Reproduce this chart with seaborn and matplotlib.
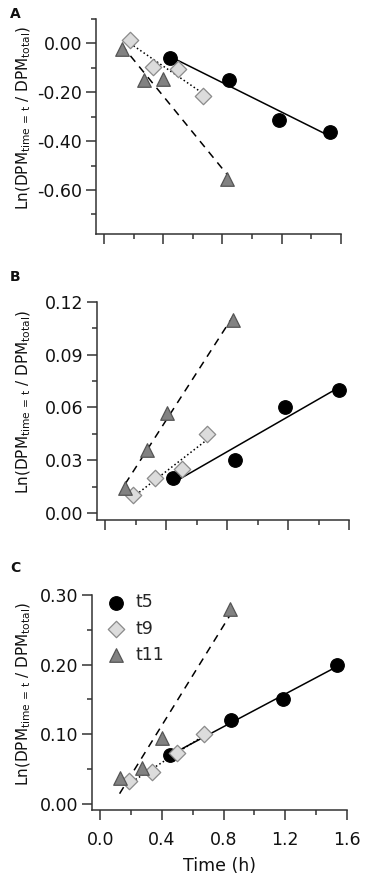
import numpy as np
import pandas as pd
import seaborn as sns
import matplotlib.pyplot as plt
from matplotlib.ticker import MultipleLocator, FormatStrFormatter

# time (h) and Ln(DPM_t / DPM_total)
a_t5_x = [0.447, 0.846, 1.179, 1.526]
a_t5_y = [-0.058, -0.149, -0.312, -0.364]
a_t9_x = [0.177, 0.329, 0.499, 0.669]
a_t9_y = [0.012, -0.096, -0.105, -0.214]
a_t11_x = [0.120, 0.268, 0.397, 0.832]
a_t11_y = [-0.022, -0.150, -0.147, -0.556]

b_t5_x = [0.448, 0.852, 1.183, 1.533]
b_t5_y = [0.020, 0.030, 0.060, 0.070]
b_t9_x = [0.181, 0.328, 0.502, 0.670]
b_t9_y = [0.010, 0.020, 0.025, 0.045]
b_t11_x = [0.131, 0.273, 0.404, 0.836]
b_t11_y = [0.014, 0.036, 0.057, 0.110]

c_t5_x = [0.454, 0.850, 1.185, 1.535]
c_t5_y = [0.070, 0.120, 0.150, 0.200]
c_t9_x = [0.184, 0.335, 0.497, 0.675]
c_t9_y = [0.032, 0.045, 0.073, 0.100]
c_t11_x = [0.125, 0.270, 0.400, 0.839]
c_t11_y = [0.037, 0.052, 0.095, 0.280]

series_names = ['t5', 't9', 't11']
panel_letters = ['A', 'B', 'C']

styles = {
    't5': dict(marker='o', face='black', edge='black', ls='-', size=95),
    't9': dict(marker='D', face='#dcdcdc', edge='#8a8a8a', ls=':', size=70),
    't11': dict(marker='^', face='#828282', edge='#555555', ls=(0, (5, 4)), size=95),
}


def make_frame(xs, ys):
    rows = []
    for name, x, y in zip(series_names, xs, ys):
        rows.append(pd.DataFrame({'Time': x, 'Ln': y, 'Series': name}))
    return pd.concat(rows, ignore_index=True)


panels = [
    make_frame([a_t5_x, a_t9_x, a_t11_x], [a_t5_y, a_t9_y, a_t11_y]),
    make_frame([b_t5_x, b_t9_x, b_t11_x], [b_t5_y, b_t9_y, b_t11_y]),
    make_frame([c_t5_x, c_t9_x, c_t11_x], [c_t5_y, c_t9_y, c_t11_y]),
]

sns.set_theme(style='ticks')
plt.rcParams['font.family'] = ['DejaVu Sans']
plt.rcParams['mathtext.default'] = 'regular'
plt.rcParams['axes.unicode_minus'] = False

W, H = 368, 884
fig = plt.figure(figsize=(W / 100, H / 100), dpi=100)

# axes boxes in pixels: left, right, top, bottom
boxes = [(96, 341, 19, 234), (97, 349, 302, 520), (92, 347, 595, 810)]
ylims = [(-0.78, 0.1), (-0.004, 0.12), (-0.009, 0.30)]
ymajor = [0.2, 0.03, 0.1]
yminor = [0.1, 0.015, 0.05]
letter_y = [14, 277, 568]

ylabel = r'Ln(DPM$_{time\,=\,t}$ / DPM$_{total}$)'

for i, df in enumerate(panels):
    l, r, t, b = boxes[i]
    ax = fig.add_axes([l / W, 1 - b / H, (r - l) / W, (b - t) / H])

    for name in series_names:
        st = styles[name]
        sub = df[df['Series'] == name]
        sns.regplot(data=sub, x='Time', y='Ln', ax=ax, scatter=False, ci=None,
                    truncate=True,
                    line_kws=dict(color='black', lw=1.1, linestyle=st['ls']))
        sns.scatterplot(data=sub, x='Time', y='Ln', ax=ax, marker=st['marker'],
                        s=st['size'], color=st['face'], edgecolor=st['edge'],
                        linewidth=0.9, label=name, zorder=3, legend=False)

    ax.set_xlim(-0.054, 1.6)
    ax.set_ylim(*ylims[i])
    ax.xaxis.set_major_locator(MultipleLocator(0.4))
    ax.xaxis.set_minor_locator(MultipleLocator(0.2))
    ax.yaxis.set_major_locator(MultipleLocator(ymajor[i]))
    ax.yaxis.set_minor_locator(MultipleLocator(yminor[i]))
    ax.xaxis.set_major_formatter(FormatStrFormatter('%.1f'))
    ax.yaxis.set_major_formatter(FormatStrFormatter('%.2f'))
    ax.tick_params(which='major', direction='out', length=7, width=1.1,
                   color='#333333', labelsize=12.5, labelcolor='#111111', pad=3)
    ax.tick_params(axis='x', which='major', pad=8)
    ax.tick_params(which='minor', direction='out', length=3.5, width=1.1,
                   color='#333333')
    for side in ['left', 'bottom']:
        ax.spines[side].set_linewidth(1.1)
        ax.spines[side].set_color('#333333')
    sns.despine(ax=ax)

    ax.set_ylabel(ylabel, fontsize=11, color='#111111')
    ax.yaxis.set_label_coords((33 - l) / (r - l), 0.54)
    if i < 2:
        ax.set_xlabel('')
        ax.tick_params(axis='x', labelbottom=False)
    else:
        ax.set_xlabel('Time (h)', fontsize=12.5, color='#111111', labelpad=6)
        handles, labels = ax.get_legend_handles_labels()
        ax.legend(handles, labels, loc='upper left', frameon=False,
                  fontsize=12.5, bbox_to_anchor=(0.0, 1.08),
                  handlelength=1.0, handletextpad=0.6, labelspacing=0.47)

    fig.text(10 / W, 1 - letter_y[i] / H, panel_letters[i], fontsize=10,
             fontweight='bold', va='center', ha='left', color='#111111')

fig.savefig('out.png', dpi=100)
